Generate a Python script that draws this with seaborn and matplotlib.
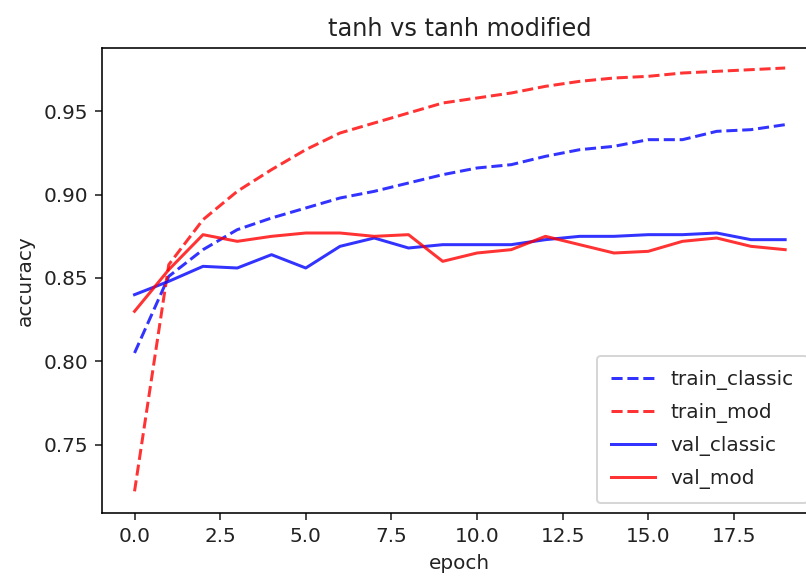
import matplotlib
matplotlib.use("Agg")
import matplotlib.pyplot as plt
import seaborn as sns
import pandas as pd

epochs = list(range(20))
train_classic = [0.805, 0.851, 0.867, 0.879, 0.886, 0.892, 0.898, 0.902, 0.907, 0.912,
                 0.916, 0.918, 0.923, 0.927, 0.929, 0.933, 0.933, 0.938, 0.939, 0.942]
train_mod = [0.722, 0.858, 0.885, 0.902, 0.915, 0.927, 0.937, 0.943, 0.949, 0.955,
             0.958, 0.961, 0.965, 0.968, 0.970, 0.971, 0.973, 0.974, 0.975, 0.976]
val_classic = [0.840, 0.848, 0.857, 0.856, 0.864, 0.856, 0.869, 0.874, 0.868, 0.870,
               0.870, 0.870, 0.873, 0.875, 0.875, 0.876, 0.876, 0.877, 0.873, 0.873]
val_mod = [0.830, 0.855, 0.876, 0.872, 0.875, 0.877, 0.877, 0.875, 0.876, 0.860,
           0.865, 0.867, 0.875, 0.870, 0.865, 0.866, 0.872, 0.874, 0.869, 0.867]

series = [
    ("train_classic", train_classic, "blue", "--"),
    ("train_mod", train_mod, "red", "--"),
    ("val_classic", val_classic, "blue", "-"),
    ("val_mod", val_mod, "red", "-"),
]

plt.rcParams["font.size"] = 10
plt.rcParams["text.color"] = "#222222"
plt.rcParams["axes.labelcolor"] = "#222222"
plt.rcParams["xtick.color"] = "#222222"
plt.rcParams["ytick.color"] = "#222222"
fig = plt.figure(figsize=(806 / 144, 579 / 144), dpi=144)
ax = fig.add_axes([102 / 806, 66 / 579, 715.7 / 806, 465 / 579])

for name, vals, col, ls in series:
    df = pd.DataFrame({"epoch": epochs, "accuracy": vals})
    sns.lineplot(data=df, x="epoch", y="accuracy", ax=ax, color=col, alpha=0.8,
                 linestyle=ls, linewidth=1.5, label=name)

ax.set_xlim(-0.95, 19.95)
ax.set_ylim(0.709, 0.988)
ax.set_xticks([0, 2.5, 5, 7.5, 10, 12.5, 15, 17.5])
ax.set_title("tanh vs tanh modified", fontsize=12)
ax.set_xlabel("epoch")
ax.set_ylabel("accuracy")
ax.legend(loc="lower right", labelspacing=0.65, borderpad=0.7, handlelength=2.2)

fig.savefig("out.png", dpi=144)
